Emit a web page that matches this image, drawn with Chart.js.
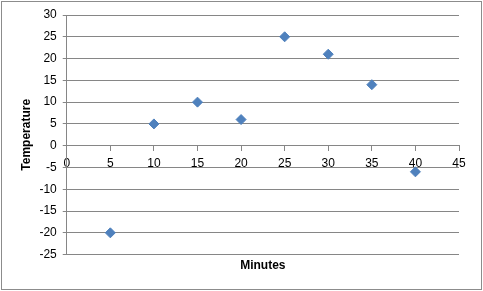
<!DOCTYPE html>
<html>
<head>
<meta charset="utf-8">
<script src="https://cdn.jsdelivr.net/npm/chart.js@4"></script>
<style>
  html, body { margin: 0; padding: 0; background: #fff; }
  #wrap { width: 483px; height: 291px; }
</style>
</head>
<body>
<div id="wrap"><canvas id="chart"></canvas></div>
<script>
// data
const minutes = [5, 10, 15, 20, 25, 30, 35, 40];
const temperature = [-20, 5, 10, 6, 25, 21, 14, -6];
const xTicks = [0, 45, 5];   // min, max, step
const yTicks = [-25, 30, 5];

const gridColor = '#868686';
const markColor = '#4f81bd';

Chart.defaults.font.family = "'Liberation Sans', Arial, sans-serif";
Chart.defaults.font.size = 12;
Chart.defaults.color = '#000';

const frame = {
    id: 'frame',
    beforeDraw(chart) {
        const ctx = chart.ctx;
        ctx.save();
        ctx.fillStyle = '#fff';
        ctx.fillRect(0, 0, chart.width, chart.height);
        ctx.strokeStyle = '#8c8c8c';
        ctx.lineWidth = 1;
        ctx.strokeRect(1.5, 1.5, chart.width - 3, chart.height - 3);
        ctx.restore();
    }
};

const points = minutes.map((m, i) => ({ x: m, y: temperature[i] }));

new Chart(document.getElementById('chart'), {
    type: 'scatter',
    data: {
        datasets: [{
            label: 'Temperature',
            data: points,
            pointStyle: 'rectRot',
            pointRadius: 5,
            pointBackgroundColor: markColor,
            pointBorderColor: markColor,
            pointBorderWidth: 1
        }]
    },
    options: {
        responsive: true,
        maintainAspectRatio: false,
        animation: false,
        layout: { padding: { left: 15, right: 24, top: 15, bottom: 14 } },
        plugins: {
            legend: { display: false },
            tooltip: { enabled: false }
        },
        scales: {
            x: {
                type: 'linear',
                position: { y: 0 },
                min: xTicks[0],
                max: xTicks[1],
                ticks: { stepSize: xTicks[2], padding: 6, maxRotation: 0 },
                grid: { drawOnChartArea: false, drawTicks: true, tickLength: 5, color: gridColor },
                border: { display: true, color: gridColor }
            },
            x2: {
                type: 'linear',
                position: 'bottom',
                axis: 'x',
                min: xTicks[0],
                max: xTicks[1],
                ticks: { display: false },
                grid: { display: false, drawTicks: false },
                border: { display: false },
                title: { display: true, text: 'Minutes', font: { weight: 'bold', size: 12 }, padding: { top: 4, bottom: 4 } }
            },
            y: {
                type: 'linear',
                position: 'left',
                min: yTicks[0],
                max: yTicks[1],
                ticks: { stepSize: yTicks[2], padding: 6 },
                grid: { color: gridColor, tickLength: 4 },
                border: { display: true, color: gridColor },
                title: { display: true, text: 'Temperature', font: { weight: 'bold', size: 12 }, padding: { top: 4, bottom: 0 } }
            }
        }
    },
    plugins: [frame]
});
</script>
</body>
</html>
